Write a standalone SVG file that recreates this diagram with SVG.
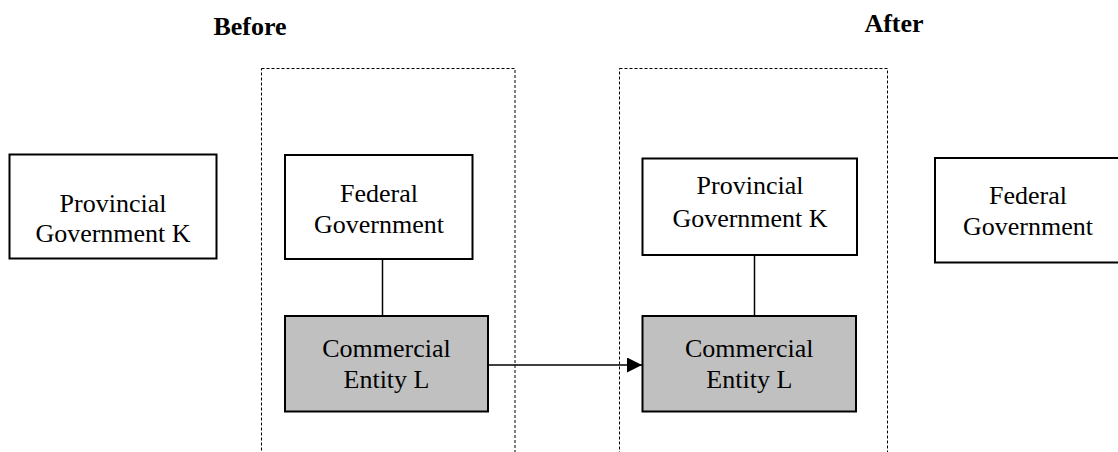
<svg xmlns="http://www.w3.org/2000/svg" width="1118" height="452" viewBox="0 0 1118 452">
<style>
.box{fill:#fff;stroke:#000;stroke-width:2}
.ent{fill:#c0c0c0;stroke:#000;stroke-width:2}
.grp{fill:none;stroke:#000;stroke-width:1;stroke-dasharray:3,2}
.t{font-family:"Liberation Serif","Times New Roman",serif;font-size:26px;fill:#000;text-anchor:middle}
.h{font-family:"Liberation Serif","Times New Roman",serif;font-size:26px;font-weight:bold;fill:#000;text-anchor:middle}
.ln{stroke:#000;stroke-width:1.5;fill:none}
</style>
<defs>
<marker id="arr" markerUnits="userSpaceOnUse" markerWidth="16" markerHeight="16" refX="15" refY="7.5" orient="auto">
<path d="M0,0 L15,7.5 L0,15 Z" fill="#000"/>
</marker>
</defs>
<text class="h" x="250" y="35">Before</text>
<text class="h" x="894" y="32">After</text>
<rect class="grp" x="261.5" y="68.5" width="253.5" height="400"/>
<rect class="grp" x="619.5" y="68.5" width="268" height="400"/>
<g id="connectors">
<line class="ln" x1="382.5" y1="259" x2="382.5" y2="316"/>
<line class="ln" x1="754.5" y1="255" x2="754.5" y2="316"/>
<line class="ln" x1="488" y1="365" x2="642" y2="365" marker-end="url(#arr)"/>
</g>
<g id="prov-before">
<rect class="box" x="9.5" y="154.5" width="207" height="104"/>
<text class="t" x="113" y="211.5">Provincial</text>
<text class="t" x="113" y="241.5">Government K</text>
</g>
<g id="fed-before">
<rect class="box" x="285" y="155" width="187.5" height="104"/>
<text class="t" x="379" y="202">Federal</text>
<text class="t" x="379" y="233">Government</text>
</g>
<g id="com-before">
<rect class="ent" x="285" y="316" width="203" height="95.5"/>
<text class="t" x="386.5" y="357">Commercial</text>
<text class="t" x="386.5" y="388">Entity L</text>
</g>
<g id="prov-after">
<rect class="box" x="642.5" y="158.5" width="214.5" height="96.5"/>
<text class="t" x="750" y="194">Provincial</text>
<text class="t" x="750" y="226.5">Government K</text>
</g>
<g id="com-after">
<rect class="ent" x="642.5" y="316" width="213.5" height="95.5"/>
<text class="t" x="749.3" y="357">Commercial</text>
<text class="t" x="749.3" y="388">Entity L</text>
</g>
<g id="fed-after">
<rect class="box" x="935" y="158" width="186" height="104.5"/>
<text class="t" x="1028" y="204">Federal</text>
<text class="t" x="1028" y="235">Government</text>
</g>
</svg>
